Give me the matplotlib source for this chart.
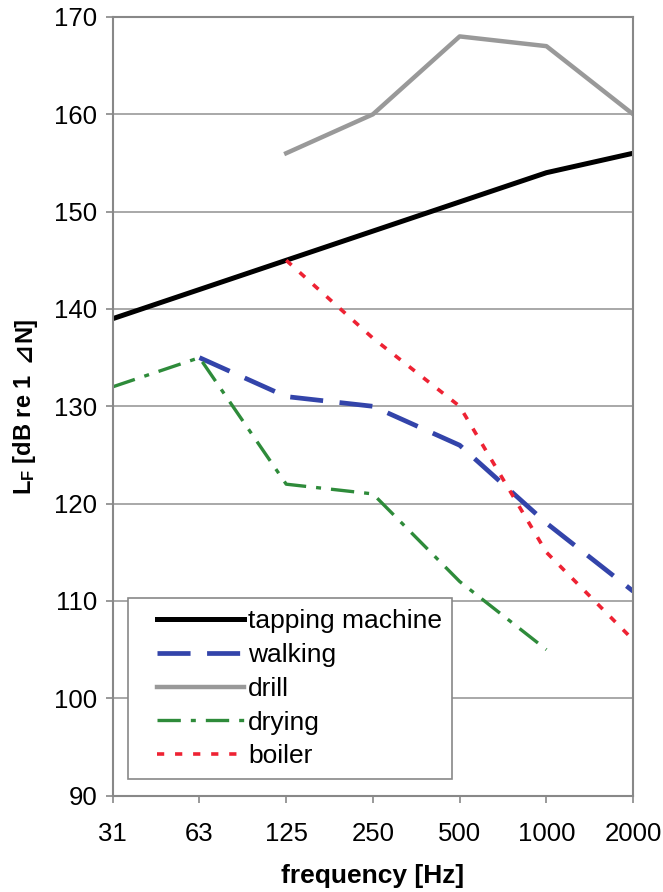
import matplotlib
matplotlib.use("Agg")
import matplotlib.pyplot as plt
from matplotlib.patches import Rectangle
import numpy as np

plt.rcParams['font.family'] = ['Liberation Sans', 'DejaVu Sans']
plt.rcParams['mathtext.fontset'] = 'custom'
plt.rcParams['mathtext.bf'] = 'Liberation Sans:bold'
plt.rcParams['mathtext.rm'] = 'Liberation Sans'

freqs = ["31", "63", "125", "250", "500", "1000", "2000"]
tapping = [139, 142, 145, 148, 151, 154, 156]
walking = [None, 135, 131, 130, 126, 118, 111]
drill = [None, None, 156, 160, 168, 167, 160]
drying = [132, 135, 122, 121, 112, 105, None]
boiler = [None, None, 145, 137, 130, 115, 106]

def arr(v):
    return np.array([np.nan if a is None else a for a in v], dtype=float)

x = np.arange(len(freqs))

fig = plt.figure(figsize=(6.63, 8.92), dpi=100)
ax = fig.add_axes([0.170, 0.108, 0.785, 0.873])

ax.plot(x, arr(tapping), color='black', lw=3.6, label='tapping machine')
ax.plot(x, arr(walking), color='#3344aa', lw=3.4, dashes=(7, 3.5), label='walking')
ax.plot(x, arr(drill), color='#999999', lw=3.2, label='drill')
ax.plot(x, arr(drying), color='#2e8b3a', lw=2.4, dashes=(7, 3, 1.5, 3), label='drying')
ax.plot(x, arr(boiler), color='#ee2233', lw=2.6, dashes=(2, 3), label='boiler')

ax.set_xlim(0, len(freqs) - 1)
ax.set_ylim(90, 170)
ax.set_yticks(np.arange(90, 171, 10))
ax.set_xticks(x)
ax.set_xticklabels(freqs)
ax.yaxis.grid(True, color='#999999', lw=1.2)
ax.set_axisbelow(True)
for s in ax.spines.values():
    s.set_color('#888888')
    s.set_linewidth(1.5)
ax.tick_params(axis='both', labelsize=18.5, color='#888888', length=5, width=1.2)
ax.tick_params(axis='x', pad=14)
ax.tick_params(axis='y', pad=6)

ax.set_xlabel('frequency [Hz]', fontsize=19, fontweight='bold', labelpad=13)

# legend without its own frame, box drawn separately
leg = ax.legend(loc='lower left', bbox_to_anchor=(0.085, 0.035), fontsize=19,
                frameon=False, handlelength=3.3, handletextpad=0.15,
                labelspacing=0.37, borderpad=0.0, borderaxespad=0)
box = Rectangle((0.029, 0.021), 0.623, 0.233, transform=ax.transAxes,
                fill=True, facecolor='white', edgecolor='#888888', lw=1.2, zorder=4)
ax.add_patch(box)
leg.set_zorder(5)

# y label composed from parts so that the triangle glyph renders
parts = [('$\\mathbf{L_F}$ [dB re 1', ['Liberation Sans', 'DejaVu Sans'], 12),
         ('⊿', ['DejaVu Sans'], 0),
         ('N]', ['Liberation Sans', 'DejaVu Sans'], 0)]
ylab_fs = 17
texts = []
for s, fam, gap in parts:
    t = fig.text(0, 0, s, rotation=90, rotation_mode='anchor', ha='left', va='baseline',
                 fontsize=ylab_fs, fontweight='bold', family=fam)
    texts.append((t, gap))
fig.canvas.draw()
r = fig.canvas.get_renderer()
inv = fig.transFigure.inverted()
heights = [t.get_window_extent(renderer=r).height + g for t, g in texts]
total = sum(heights)
cx_px = 31
cy_px = fig.bbox.height * (0.108 + 0.873 / 2)
y = cy_px - total / 2
for (t, g), h in zip(texts, heights):
    fx, fy = inv.transform((cx_px, y))
    t.set_position((fx, fy))
    y += h

fig.savefig('out.png', dpi=100)
